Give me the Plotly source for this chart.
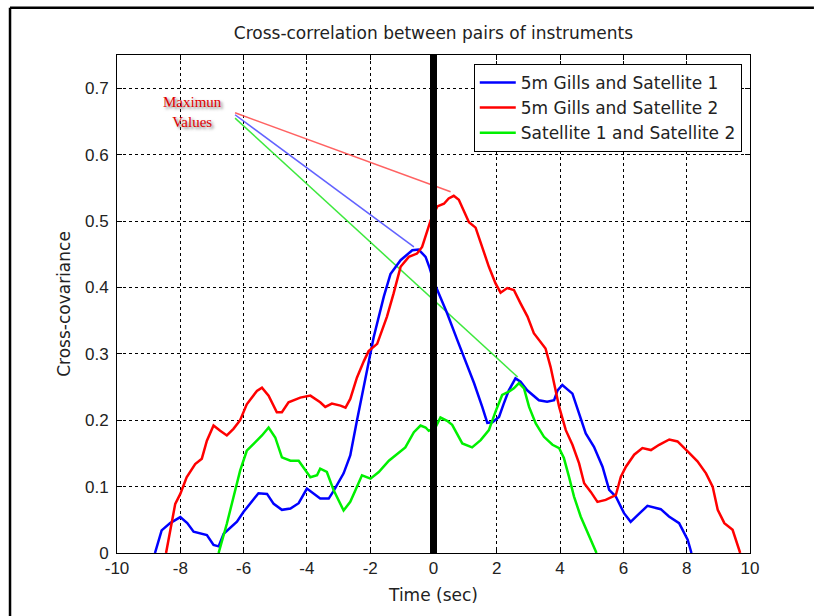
import plotly.graph_objects as go

# ---------------- data ----------------
title_text = "Cross-correlation between pairs of instruments"
series_names = ["5m Gills and Satellite 1", "5m Gills and Satellite 2", "Satellite 1 and Satellite 2"]

blue_x = [-8.8, -8.59, -8.32, -8.0, -7.78, -7.58, -7.16, -6.95, -6.79, -6.63, -6.21, -6.0, -5.53, -5.26,
          -5.05, -4.79, -4.52, -4.26, -4.0, -3.79, -3.58, -3.31, -3.15, -2.84, -2.63, -2.42, -2.1, -1.89,
          -1.57, -1.36, -1.04, -0.67, -0.47, -0.25, -0.12, 0.0, 0.12, 0.43, 0.75, 0.96, 1.28, 1.54, 1.70,
          1.86, 2.07, 2.22, 2.38, 2.59, 2.75, 2.96, 3.33, 3.59, 3.81, 3.92, 4.07, 4.39, 4.6, 4.81, 5.07,
          5.34, 5.55, 5.76, 6.02, 6.23, 6.45, 6.76, 7.18, 7.44, 7.76, 8.03, 8.15]
blue_y = [0, 0.034, 0.045, 0.054, 0.045, 0.032, 0.027, 0.012, 0.01, 0.029, 0.047, 0.062, 0.09, 0.089,
          0.074, 0.065, 0.067, 0.075, 0.097, 0.089, 0.082, 0.082, 0.094, 0.12, 0.147, 0.199, 0.274, 0.325,
          0.386, 0.42, 0.441, 0.456, 0.457, 0.446, 0.429, 0.41, 0.396, 0.361, 0.321, 0.296, 0.256, 0.22, 0.196,
          0.197, 0.205, 0.225, 0.245, 0.263, 0.258, 0.245, 0.23, 0.228, 0.23, 0.245, 0.253, 0.24, 0.21, 0.18, 0.16,
          0.13, 0.095, 0.085, 0.06, 0.047, 0.057, 0.071, 0.066, 0.055, 0.045, 0.02, 0]

red_x = [-8.45, -8.32, -8.16, -8.0, -7.8, -7.53, -7.32, -7.16, -6.95, -6.74, -6.53, -6.32, -6.11, -5.9,
         -5.58, -5.42, -5.21, -4.95, -4.79, -4.58, -4.21, -3.89, -3.58, -3.42, -3.21, -2.94, -2.78, -2.63,
         -2.42, -2.2, -2.05, -1.78, -1.47, -1.26, -1.04, -0.78, -0.52, -0.36, -0.2, -0.09, 0.12, 0.33, 0.48,
         0.64, 0.8, 0.96, 1.12, 1.33, 1.54, 1.75, 1.96, 2.12, 2.33, 2.54, 2.75, 2.97, 3.17, 3.39, 3.54, 3.7,
         3.83, 3.97, 4.18, 4.39, 4.6, 4.76, 4.97, 5.18, 5.44, 5.76, 5.92, 6.08, 6.34, 6.6, 6.87, 7.13, 7.45,
         7.71, 8.03, 8.34, 8.61, 8.82, 8.98, 9.19, 9.45, 9.56, 9.69]
red_y = [0, 0.034, 0.074, 0.089, 0.114, 0.134, 0.142, 0.169, 0.192, 0.184, 0.177, 0.187, 0.2, 0.224,
         0.244, 0.249, 0.237, 0.212, 0.212, 0.227, 0.234, 0.237, 0.227, 0.22, 0.225, 0.222, 0.219, 0.232,
         0.264, 0.289, 0.304, 0.315, 0.356, 0.391, 0.431, 0.446, 0.451, 0.461, 0.486, 0.501, 0.522, 0.526, 0.534,
         0.538, 0.532, 0.515, 0.498, 0.49, 0.461, 0.431, 0.406, 0.392, 0.399, 0.396, 0.376, 0.356, 0.331, 0.318, 0.308, 0.28,
         0.25, 0.22, 0.185, 0.163, 0.135, 0.105, 0.092, 0.077, 0.08, 0.087, 0.115, 0.13, 0.148, 0.158, 0.155, 0.163, 0.171,
         0.168, 0.153, 0.138, 0.12, 0.1, 0.065, 0.045, 0.035, 0.02, 0]

green_x = [-6.79, -6.53, -6.32, -6.11, -5.9, -5.69, -5.42, -5.21, -5.0, -4.79, -4.52, -4.26, -3.89, -3.68,
           -3.58, -3.37, -3.15, -2.84, -2.63, -2.47, -2.26, -1.99, -1.73, -1.41, -1.15, -0.89, -0.62, -0.41,
           -0.25, -0.15, 0.06, 0.22, 0.43, 0.59, 0.91, 1.22, 1.49, 1.75, 1.96, 2.17, 2.38, 2.54, 2.7, 2.86,
           3.02, 3.23, 3.49, 3.76, 3.97, 4.12, 4.28, 4.44, 4.65, 4.86, 5.02, 5.15]
green_y = [0, 0.044, 0.084, 0.124, 0.154, 0.164, 0.177, 0.189, 0.174, 0.144, 0.139, 0.139, 0.114, 0.117,
           0.127, 0.122, 0.094, 0.064, 0.077, 0.094, 0.117, 0.112, 0.122, 0.139, 0.149, 0.159, 0.182, 0.192,
           0.189, 0.184, 0.189, 0.204, 0.199, 0.193, 0.165, 0.159, 0.17, 0.185, 0.213, 0.238, 0.243, 0.248, 0.256, 0.248,
           0.22, 0.195, 0.175, 0.163, 0.158, 0.143, 0.115, 0.085, 0.055, 0.032, 0.015, 0]

# "Maximum values" pointer lines: label anchor -> peak of each series
pointer_start_x = [-6.27, -6.27, -6.27]
pointer_start_y = [0.660, 0.663, 0.655]
pointer_end_x = [-0.62, 0.54, 2.66]
pointer_end_y = [0.461, 0.544, 0.265]
label_text = "Maximun<br>Values"
label_x, label_y = -7.6, 0.664

x_ticks = [-10, -8, -6, -4, -2, 0, 2, 4, 6, 8, 10]
y_ticks = [0, 0.1, 0.2, 0.3, 0.4, 0.5, 0.6, 0.7]

# ---------------- figure ----------------
FONT = "Liberation Sans, Arial, Helvetica, sans-serif"
WIDE = "DejaVu Sans, Verdana, sans-serif"
colors = ["#0000ff", "#ff0000", "#00f000"]
pointer_colors = ["rgba(70,70,255,0.85)", "rgba(255,70,70,0.85)", "rgba(40,230,40,0.9)"]

fig = go.Figure()

for i in range(3):
    fig.add_trace(go.Scatter(
        x=[pointer_start_x[i], pointer_end_x[i]], y=[pointer_start_y[i], pointer_end_y[i]],
        mode="lines", line=dict(color=pointer_colors[i], width=1.5),
        showlegend=False, hoverinfo="skip"))

for xs, ys, name, c in [(blue_x, blue_y, series_names[0], colors[0]),
                        (red_x, red_y, series_names[1], colors[1]),
                        (green_x, green_y, series_names[2], colors[2])]:
    fig.add_trace(go.Scatter(x=xs, y=ys, mode="lines", name=name,
                             line=dict(color=c, width=2.5)))

# thick vertical line at zero lag
fig.add_shape(type="line", xref="x", yref="y", x0=0, x1=0, y0=0, y1=0.75,
              line=dict(color="black", width=7), layer="above")

# outer frame (top and left edges)
fig.add_shape(type="line", xref="paper", yref="paper", x0=-0.169, x1=1.101, y0=1.095, y1=1.095,
              line=dict(color="black", width=2.5))
fig.add_shape(type="line", xref="paper", yref="paper", x0=-0.169, x1=-0.169, y0=1.095, y1=-0.2,
              line=dict(color="black", width=2.5))

fig.add_annotation(x=label_x, y=label_y, xref="x", yref="y", text=label_text, showarrow=False,
                   font=dict(family="Liberation Serif, Times New Roman, serif", size=15, color="#e00000",
                             shadow="2px 2px 3px #777777"))

axis_common = dict(showline=True, linecolor="black", linewidth=1, mirror="ticks",
                   ticks="inside", ticklen=5, tickcolor="black",
                   showgrid=True, gridcolor="black", gridwidth=1, griddash="3px,3px",
                   zeroline=False, tickfont=dict(size=17, family=FONT, color="#222"))

fig.update_xaxes(range=[-10, 10], tickvals=x_ticks, ticktext=[str(v) for v in x_ticks],
                 title=dict(text="Time (sec)", font=dict(size=17, family=WIDE), standoff=11),
                 **axis_common)
fig.update_yaxes(range=[0, 0.75], tickvals=y_ticks, ticktext=[("0" if v == 0 else str(v)) for v in y_ticks],
                 ticklabelstandoff=4,
                 title=dict(text="Cross-covariance", font=dict(size=17, family=WIDE), standoff=10),
                 **axis_common)

fig.update_layout(
    width=814, height=616,
    margin=dict(l=117, r=64, t=55, b=63),
    paper_bgcolor="white", plot_bgcolor="white",
    font=dict(family=FONT, size=17, color="#222"),
    title=dict(text=title_text, x=0.5325, xanchor="center", y=1 - 33 / 616, yanchor="middle",
               yref="container", font=dict(size=17, family=WIDE, color="#222")),
    legend=dict(x=0.987, y=0.982, xanchor="right", yanchor="top", bgcolor="white",
                bordercolor="black", borderwidth=1, font=dict(size=17, family=WIDE, color="#222"),
                tracegroupgap=0, itemwidth=36),
    showlegend=True,
)

fig.write_html("out.html")
